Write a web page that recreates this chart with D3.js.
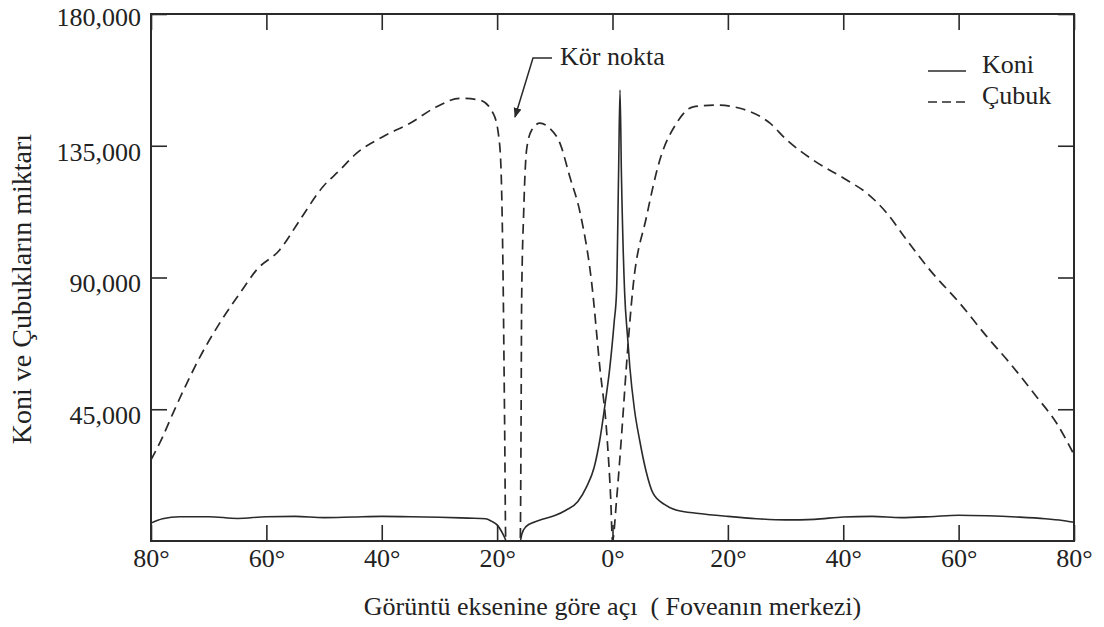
<!DOCTYPE html>
<html>
<head>
<meta charset="utf-8">
<script src="https://cdn.jsdelivr.net/npm/d3@7"></script>
<style>
  body { margin: 0; background: #fff; }
  text { font-family: "Liberation Serif", "Times New Roman", serif; fill: #222; }
</style>
</head>
<body>
<svg id="chart"></svg>
<script>
"use strict";

// cones (koni) – angle from the fovea in degrees, count
const coneAngles = [-80, -78, -75, -70, -65, -60, -55, -50, -45, -40, -35, -30, -25, -22, -21, -20, -19.3, -18.7, -18.4, -16,
  -15.7, -15, -13.5, -12, -10, -8, -6, -4.5, -3.2, -2.2, -1.2, -0.45, 0.3, 0.7, 1.05, 1.3, 1.55, 2.1, 2.6, 3.0,
  3.8, 4.7, 5.8, 7, 9, 11, 15, 20, 25, 30, 35, 40, 45, 50, 55, 60, 65, 70, 75, 78, 80];
const coneValues = [6100, 7600, 8300, 8300, 7700, 8300, 8400, 8000, 8200, 8400, 8300, 8100, 7800, 7600, 6800, 5500, 3500, 1200, 0, 0,
  2500, 4900, 6500, 7500, 8700, 10600, 13500, 18500, 25000, 34500, 48000, 59500, 75000, 85000, 125000, 154000, 125000, 85000, 70000, 59500,
  45000, 34500, 24000, 16400, 12500, 10600, 9400, 8400, 7600, 7200, 7400, 8200, 8400, 8000, 8300, 8800, 8600, 8200, 7600, 7000, 6400];

// rods (çubuk)
const rodAngles = [-80, -78, -76.2, -74, -71.5, -68.1, -64.6, -61.7, -57.7, -54.2, -50.2, -47.3, -44.4, -39.8, -35.1, -30.5, -26.5, -23, -20.7, -19.8,
  -19.35, -19.0, -18.7, -18.5, -16, -15.85, -15.75, -15.4, -14.9, -14, -12.6, -10.9, -9.1, -7.4, -5.6, -3.6, -2.2, -1, -0.3, 0,
  0.7, 1.6, 2.4, 3.5, 5.9, 8.2, 11.1, 14, 18, 22.1, 27.3, 30.2, 34.8, 40.6, 44.1, 47.6, 51.0, 55.0, 60.2, 64.9,
  68.9, 73.5, 77.0, 80];
const rodValues = [27700, 35500, 43600, 53000, 62900, 74400, 84600, 92600, 99400, 109600, 121000, 126600, 132400, 138100, 142700, 148300, 151200, 150600, 146100, 139300,
  128400, 95000, 40000, 0, 0, 40000, 82000, 112000, 133500, 140400, 142700, 141000, 135800, 124400, 112000, 88000, 59400, 36900, 14000, 0,
  14000, 36900, 59400, 85700, 110800, 130100, 142700, 148300, 148900, 147800, 142700, 137000, 130100, 123300, 118800, 111900, 102800, 92600, 81200, 69800,
  60700, 49300, 40200, 29500];

const xTicks = [-80, -60, -40, -20, 0, 20, 40, 60, 80];
const yTicks = [45000, 90000, 135000, 180000];

const WIDTH = 1104;
const HEIGHT = 627;
const margin = { top: 14, right: 30, bottom: 86, left: 151 };
const innerW = WIDTH - margin.left - margin.right;
const innerH = HEIGHT - margin.top - margin.bottom;
const INK = "#2a2a2a";
const TICK = 16;

const svg = d3.select("#chart")
  .attr("width", WIDTH)
  .attr("height", HEIGHT);

const g = svg.append("g")
  .attr("transform", "translate(" + margin.left + "," + margin.top + ")");

const x = d3.scaleLinear().domain([-80, 80]).range([0, innerW]);
const y = d3.scaleLinear().domain([0, 180000]).range([innerH, 0]);

// axes, ticks point inward on all four sides
const xAxis = d3.axisBottom(x)
  .tickValues(xTicks)
  .tickSizeInner(-TICK)
  .tickSizeOuter(0)
  .tickPadding(8)
  .tickFormat(d => Math.abs(d) + "°");

const yAxis = d3.axisLeft(y)
  .tickValues(yTicks)
  .tickSizeInner(-TICK)
  .tickSizeOuter(0)
  .tickPadding(10)
  .tickFormat(d3.format(","));

const gx = g.append("g").attr("transform", "translate(0," + innerH + ")").call(xAxis);
const gy = g.append("g").call(yAxis);
const gTop = g.append("g").call(d3.axisTop(x).tickValues(xTicks).tickSizeInner(-TICK).tickSizeOuter(0).tickFormat(""));
const gRight = g.append("g").attr("transform", "translate(" + innerW + ",0)")
  .call(d3.axisRight(y).tickValues(yTicks).tickSizeInner(-TICK).tickSizeOuter(0).tickFormat(""));

[gx, gy, gTop, gRight].forEach(a => {
  a.select(".domain").remove();
  a.selectAll(".tick line").attr("stroke", INK).attr("stroke-width", 1.6);
  a.selectAll(".tick text").attr("font-size", 26).attr("fill", INK)
    .attr("font-family", "Liberation Serif, Times New Roman, serif");
});
gy.selectAll(".tick text").attr("dy", d => d === 180000 ? "0.45em" : "0.55em");

g.append("rect")
  .attr("width", innerW)
  .attr("height", innerH)
  .attr("fill", "none")
  .attr("stroke", INK)
  .attr("stroke-width", 2);

// curves
const line = d3.line()
  .x(d => x(d[0]))
  .y(d => y(d[1]))
  .curve(d3.curveMonotoneX);

const rods = rodAngles.map((a, i) => [a, rodValues[i]]);
const cones = coneAngles.map((a, i) => [a, coneValues[i]]);

g.append("path")
  .datum(rods)
  .attr("d", line)
  .attr("fill", "none")
  .attr("stroke", INK)
  .attr("stroke-width", 1.7)
  .attr("stroke-dasharray", "10,6");

g.append("path")
  .datum(cones)
  .attr("d", line)
  .attr("fill", "none")
  .attr("stroke", INK)
  .attr("stroke-width", 1.6);

// axis titles
svg.append("text")
  .attr("x", margin.left + innerW / 2)
  .attr("y", 615)
  .attr("text-anchor", "middle")
  .attr("font-size", 26)
  .style("white-space", "pre")
  .text("Görüntü eksenine göre açı  ( Foveanın merkezi)");

svg.append("text")
  .attr("transform", "translate(31,289) rotate(-90)")
  .attr("text-anchor", "middle")
  .attr("font-size", 28)
  .text("Koni ve Çubukların miktarı");

// legend
const legend = svg.append("g");
legend.append("line").attr("x1", 928).attr("x2", 966).attr("y1", 71).attr("y2", 71)
  .attr("stroke", INK).attr("stroke-width", 1.7);
legend.append("line").attr("x1", 928).attr("x2", 966).attr("y1", 102).attr("y2", 102)
  .attr("stroke", INK).attr("stroke-width", 1.7).attr("stroke-dasharray", "9,5");
legend.append("text").attr("x", 982).attr("y", 73).attr("font-size", 26).text("Koni");
legend.append("text").attr("x", 982).attr("y", 104).attr("font-size", 26).text("Çubuk");

// blind spot note
svg.append("defs").append("marker")
  .attr("id", "arrow")
  .attr("viewBox", "0 0 10 10")
  .attr("refX", 9).attr("refY", 5)
  .attr("markerWidth", 10).attr("markerHeight", 10)
  .attr("markerUnits", "userSpaceOnUse")
  .attr("orient", "auto")
  .append("path")
  .attr("d", "M0,1 L10,5 L0,9 Z")
  .attr("fill", INK);

svg.append("path")
  .attr("d", "M552,58 L533,58 L515,117")
  .attr("fill", "none")
  .attr("stroke", INK)
  .attr("stroke-width", 1.5)
  .attr("marker-end", "url(#arrow)");

svg.append("text")
  .attr("x", 560)
  .attr("y", 65)
  .attr("font-size", 26)
  .text("Kör nokta");
</script>
</body>
</html>
